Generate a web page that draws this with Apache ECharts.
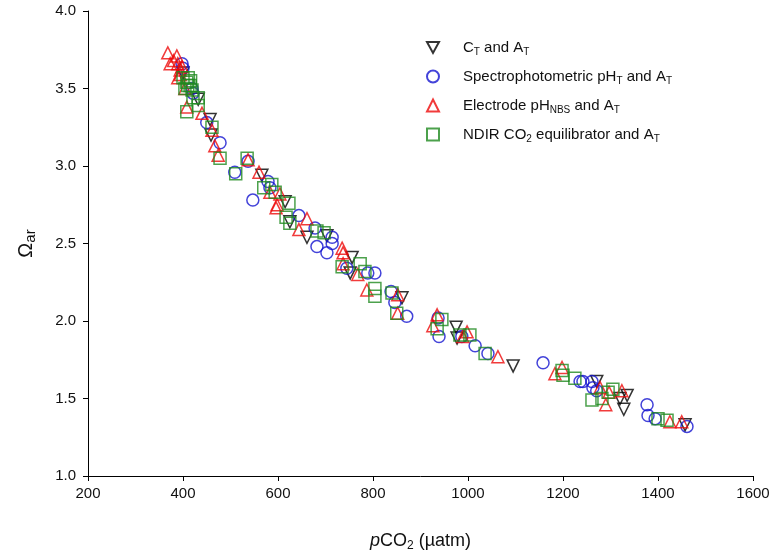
<!DOCTYPE html>
<html>
<head>
<meta charset="utf-8">
<script src="https://cdn.jsdelivr.net/npm/echarts@6/dist/echarts.min.js"></script>
<style>
  html, body { margin: 0; padding: 0; background: #fff; }
  #main { width: 776px; height: 558px; }
</style>
</head>
<body>
<div id="main"></div>
<script>
// pCO2 (uatm), Omega_ar pairs
var ctAt = [
  [400, 3.60], [432, 3.43], [457, 3.30], [459, 3.20], [566, 2.94], [615, 2.77],
  [625, 2.64], [661, 2.54], [703, 2.55], [756, 2.41], [752, 2.31], [861, 2.15],
  [975, 1.96], [977, 1.89], [1095, 1.71], [1271, 1.61], [1320, 1.50], [1335, 1.52],
  [1328, 1.43], [1457, 1.33]
];
var specPh = [
  [398, 3.66], [400, 3.63], [419, 3.50], [421, 3.47], [450, 3.28], [478, 3.15],
  [509, 2.96], [537, 3.03], [547, 2.78], [579, 2.90], [583, 2.86], [644, 2.68],
  [678, 2.60], [714, 2.54], [714, 2.50], [682, 2.48], [703, 2.44], [745, 2.34],
  [789, 2.31], [804, 2.31], [838, 2.19], [846, 2.12], [871, 2.03], [937, 2.02],
  [939, 1.90], [987, 1.90], [1015, 1.84], [1042, 1.79], [1158, 1.73], [1236, 1.61],
  [1242, 1.61], [1261, 1.61], [1263, 1.57], [1271, 1.55], [1377, 1.46], [1379, 1.39],
  [1394, 1.37], [1461, 1.32]
];
var electrodePh = [
  [368, 3.73], [387, 3.71], [373, 3.66], [380, 3.68], [389, 3.66], [394, 3.62],
  [398, 3.64], [394, 3.59], [389, 3.57], [404, 3.50], [408, 3.38], [440, 3.34],
  [461, 3.23], [467, 3.13], [474, 3.07], [537, 3.04], [560, 2.96], [583, 2.83],
  [604, 2.82], [598, 2.75], [596, 2.73], [661, 2.66], [644, 2.59], [735, 2.47],
  [737, 2.44], [737, 2.37], [768, 2.30], [787, 2.20], [852, 2.17], [852, 2.05],
  [935, 2.04], [926, 1.97], [998, 1.93], [989, 1.90], [1063, 1.77], [1198, 1.70],
  [1183, 1.66], [1278, 1.57], [1297, 1.54], [1324, 1.55], [1290, 1.46], [1425, 1.35],
  [1450, 1.35]
];
var ndir = [
  [400, 3.57], [411, 3.57], [408, 3.54], [416, 3.55], [415, 3.52], [410, 3.52],
  [404, 3.50], [419, 3.49], [421, 3.44], [432, 3.44], [432, 3.39], [408, 3.35],
  [461, 3.25], [478, 3.05], [511, 2.95], [535, 3.05], [570, 2.86], [587, 2.88],
  [594, 2.83], [623, 2.76], [617, 2.67], [625, 2.63], [682, 2.58], [697, 2.57],
  [773, 2.37], [735, 2.35], [783, 2.32], [804, 2.21], [804, 2.16], [840, 2.18],
  [850, 2.05], [945, 2.01], [935, 1.95], [1004, 1.91], [983, 1.91], [1036, 1.79],
  [1198, 1.68], [1200, 1.65], [1225, 1.63], [1261, 1.49], [1282, 1.50], [1295, 1.54],
  [1305, 1.56], [1400, 1.37], [1419, 1.36]
];

var names = ['ct', 'spec', 'elec', 'ndir'];
var labels = {
  ct: 'C{s|T} and A{s|T}',
  spec: 'Spectrophotometric pH{s|T} and A{s|T}',
  elec: 'Electrode pH{s|NBS} and A{s|T}',
  ndir: 'NDIR CO{s|2} equilibrator and A{s|T}'
};
var downTri = 'path://M0,0L10,0L5,9Z';

function scatter(name, data, symbol, color) {
  return {
    name: name,
    type: 'scatter',
    data: data,
    symbol: symbol,
    symbolSize: 12,
    itemStyle: { color: 'rgba(0,0,0,0)', borderColor: color, borderWidth: 1.5 }
  };
}

var chart = echarts.init(document.getElementById('main'));
var font = 'Liberation Sans, Arial, sans-serif';

var option = {
  animation: false,
  textStyle: { fontFamily: font },
  grid: { left: 88, right: 23, top: 11, bottom: 82 },
  legend: {
    orient: 'vertical',
    left: 421,
    top: 35,
    itemGap: 12,
    itemWidth: 12,
    itemHeight: 12,
    data: names.map(function (n, i) {
      return { name: n, icon: [downTri, 'circle', 'triangle', 'rect'][i] };
    }),
    formatter: function (n) { return labels[n]; },
    textStyle: {
      fontSize: 15,
      color: '#111',
      padding: [0, 0, 0, 19],
      rich: {
        s: { fontSize: 10, padding: [9, 0, 0, 0] }
      }
    }
  },
  xAxis: {
    type: 'value',
    min: 200, max: 1600, interval: 200,
    name: '{i|p}CO{s|2} (\u00b5atm)',
    nameLocation: 'middle',
    nameGap: 54,
    nameTextStyle: {
      fontSize: 18, color: '#111',
      rich: {
        i: { fontSize: 18, fontStyle: 'italic' },
        s: { fontSize: 12, padding: [10, 0, 0, 0] }
      }
    },
    axisLine: { lineStyle: { color: '#000', width: 1 } },
    axisTick: { inside: false, length: 5, lineStyle: { color: '#000' } },
    axisLabel: {
      fontSize: 15, color: '#111', margin: 10,
      formatter: function (v) { return String(v); }
    },
    splitLine: { show: false }
  },
  yAxis: {
    type: 'value',
    min: 1, max: 4, interval: 0.5,
    name: '\u03a9{s|ar}',
    nameLocation: 'middle',
    nameGap: 50,
    nameTextStyle: {
      fontSize: 20, color: '#111',
      rich: {
        s: { fontSize: 15, padding: [8, 0, 0, 0] }
      }
    },
    axisLine: { show: true, lineStyle: { color: '#000', width: 1 } },
    axisTick: { show: true, inside: false, length: 5, lineStyle: { color: '#000' } },
    axisLabel: {
      fontSize: 15, color: '#111', margin: 12,
      formatter: function (v) { return v.toFixed(1); }
    },
    splitLine: { show: false }
  },
  series: [
    scatter('ct', ctAt, downTri, '#000000'),
    scatter('spec', specPh, 'circle', '#1414d0'),
    scatter('elec', electrodePh, 'triangle', '#ee0a0a'),
    scatter('ndir', ndir, 'rect', '#1f8a1f')
  ]
};

option && chart.setOption(option);
</script>
</body>
</html>
